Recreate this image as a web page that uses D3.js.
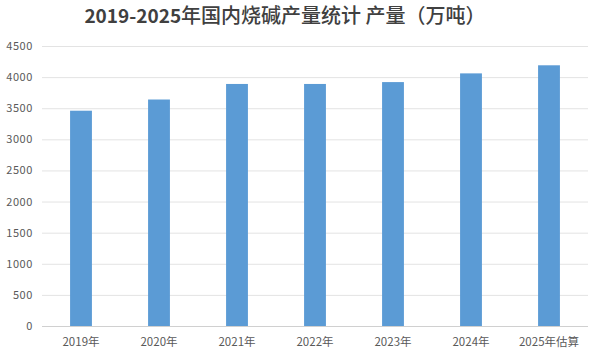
<!DOCTYPE html>
<html>
<head>
<meta charset="utf-8">
<script src="https://cdn.jsdelivr.net/npm/d3@7"></script>
<style>
    body { margin: 0; background: #fff; }
    svg { display: block; }
    text { font-family: "Noto Sans CJK SC", "Noto Sans", sans-serif; }
</style>
</head>
<body>
<svg id="chart"></svg>
<script>
// 年份与产量（万吨）
const years = ['2019年', '2020年', '2021年', '2022年', '2023年', '2024年', '2025年估算'];
const output = [3460, 3640, 3890, 3890, 3920, 4060, 4190];
const yTicks = [0, 500, 1000, 1500, 2000, 2500, 3000, 3500, 4000, 4500];
const titleYears = '2019-2025';
const titleRest = '年国内烧碱产量统计 产量（万吨）';

const width = 600;
const height = 358;
const margin = { top: 46, right: 12, bottom: 32, left: 42 };

const svg = d3.select('#chart')
    .attr('width', width)
    .attr('height', height);

const x = d3.scaleBand()
    .domain(years)
    .range([margin.left, width - margin.right])
    .paddingInner(0.72)
    .paddingOuter(0.36);

const y = d3.scaleLinear()
    .domain([0, 4500])
    .range([height - margin.bottom, margin.top]);

// 网格线
svg.append('g')
    .selectAll('line')
    .data(yTicks)
    .join('line')
    .attr('x1', margin.left)
    .attr('x2', width - margin.right)
    .attr('y1', (d) => y(d) + 0.5)
    .attr('y2', (d) => y(d) + 0.5)
    .attr('stroke', (d) => d === 0 ? '#d0d0d0' : '#e3e3e3')
    .attr('stroke-width', 1);

// y轴刻度
const yAxis = svg.append('g')
    .attr('transform', 'translate(' + margin.left + ',0)')
    .call(d3.axisLeft(y).tickValues(yTicks).tickFormat(d3.format('d')).tickSize(0).tickPadding(9));
yAxis.select('.domain').remove();
yAxis.selectAll('text')
    .attr('fill', '#595959')
    .style('font-size', '11px')
    .style('letter-spacing', '0.6px');

// 柱子
svg.append('g')
    .selectAll('rect')
    .data(output)
    .join('rect')
    .attr('x', (d, i) => x(years[i]))
    .attr('y', (d) => y(d))
    .attr('width', x.bandwidth())
    .attr('height', (d) => y(0) - y(d))
    .attr('fill', '#5b9bd5');

// x轴刻度
const xAxis = svg.append('g')
    .attr('transform', 'translate(0,' + (height - margin.bottom) + ')')
    .call(d3.axisBottom(x).tickSize(0).tickPadding(12));
xAxis.select('.domain').remove();
xAxis.selectAll('text')
    .attr('fill', '#595959')
    .style('font-size', '11.5px');

// 标题
const titleText = svg.append('text')
    .attr('x', 285)
    .attr('y', 23)
    .attr('text-anchor', 'middle')
    .attr('fill', '#404040');
titleText.append('tspan')
    .style('font-size', '19px')
    .style('font-weight', 'bold')
    .text(titleYears);
titleText.append('tspan')
    .style('font-size', '20px')
    .style('font-weight', '500')
    .text(titleRest);
</script>
</body>
</html>
